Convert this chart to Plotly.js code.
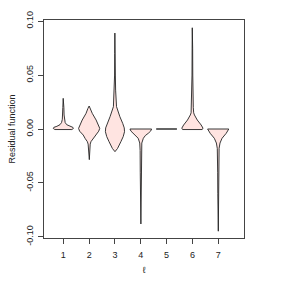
<!DOCTYPE html>
<html>
<head>
<meta charset="utf-8">
<script src="https://cdn.plot.ly/plotly-3.0.1.min.js"></script>
<style>html,body{margin:0;padding:0;background:#fff;}#chart{width:288px;height:288px;}</style>
</head>
<body>
<div id="chart"></div>
<script>
// Categories (ℓ)
const categories = [1, 2, 3, 4, 5, 6, 7];
const xTickLabels = ['1', '2', '3', '4', '5', '6', '7'];
const yTickVals = [-0.10, -0.05, 0.00, 0.05, 0.10];
const yTickLabels = ['-0.10', '-0.05', '0.00', '0.05', '0.10'];

// Violin profiles: residual levels (ascending) and half-widths (density, x units)
const v1Y = [-0.0005, 0.0005, 0.0015, 0.0025, 0.004, 0.006, 0.009, 0.013, 0.02, 0.0284];
const v1W = [0.33, 0.39, 0.37, 0.25, 0.13, 0.07, 0.04, 0.028, 0.02, 0.006];

const v2Y = [-0.0284, -0.024, -0.018, -0.014, -0.0117, -0.009, -0.0056, -0.002, 0.0006, 0.004, 0.0083, 0.0145, 0.019, 0.0213];
const v2W = [0.006, 0.015, 0.025, 0.04, 0.07, 0.15, 0.23, 0.37, 0.41, 0.36, 0.27, 0.12, 0.05, 0.0];

const v3Y = [-0.021, -0.018, -0.0117, -0.007, -0.0025, 0.001, 0.0052, 0.0114, 0.0207, 0.028, 0.036, 0.05, 0.07, 0.0889];
const v3W = [0.0, 0.1, 0.23, 0.32, 0.37, 0.36, 0.30, 0.19, 0.06, 0.035, 0.025, 0.015, 0.01, 0.004];

const v4Y = [-0.088, -0.08, -0.06, -0.04, -0.02, -0.013, -0.0086, -0.006, -0.004, -0.002, 0.0];
const v4W = [0.004, 0.01, 0.015, 0.02, 0.025, 0.04, 0.1, 0.18, 0.29, 0.38, 0.42];

const v5Y = [0.0, 0.0];
const v5W = [0.4, 0.4];

const v6Y = [-0.0005, 0.0008, 0.0037, 0.0083, 0.013, 0.015, 0.02, 0.03, 0.05, 0.075, 0.0938];
const v6W = [0.38, 0.41, 0.34, 0.19, 0.08, 0.05, 0.035, 0.025, 0.015, 0.01, 0.004];

const v7Y = [-0.0947, -0.08, -0.06, -0.04, -0.025, -0.018, -0.013, -0.0086, -0.004, -0.002, 0.0];
const v7W = [0.004, 0.01, 0.015, 0.02, 0.025, 0.035, 0.07, 0.15, 0.31, 0.37, 0.41];

const profilesY = [v1Y, v2Y, v3Y, v4Y, v5Y, v6Y, v7Y];
const profilesW = [v1W, v2W, v3W, v4W, v5W, v6W, v7W];

const traces = categories.map((c, i) => {
  const ys = profilesY[i], ws = profilesW[i];
  const x = [], y = [];
  for (let k = 0; k < ys.length; k++) { x.push(c + ws[k]); y.push(ys[k]); }
  for (let k = ys.length - 1; k >= 0; k--) { x.push(c - ws[k]); y.push(ys[k]); }
  x.push(x[0]); y.push(y[0]);
  return {
    type: 'scatter', mode: 'lines', x: x, y: y,
    fill: 'toself', fillcolor: '#ffe4e1',
    line: {color: '#222222', width: 0.9},
    hoverinfo: 'skip', showlegend: false
  };
});

const font = {family: 'Liberation Sans, Arial, Helvetica, sans-serif', size: 9, color: '#222'};

const layout = {
  width: 288, height: 288,
  margin: {l: 44, r: 44, t: 20, b: 50, pad: 0},
  paper_bgcolor: '#fff', plot_bgcolor: '#fff',
  font: font,
  showlegend: false,
  xaxis: {
    range: [0.25, 8.0], tickvals: categories, ticktext: xTickLabels,
    ticks: 'outside', ticklen: 5, tickcolor: '#444', tickwidth: 1,
    ticklabelstandoff: 3,
    showline: true, mirror: true, linecolor: '#444', linewidth: 1,
    showgrid: false, zeroline: false, tickfont: font,
    title: {text: 'ℓ', font: font, standoff: 7},
    automargin: false
  },
  yaxis: {
    range: [-0.101, 0.101], tickvals: yTickVals, ticktext: yTickLabels,
    tickangle: -90,
    ticks: 'outside', ticklen: 5, tickcolor: '#444', tickwidth: 1,
    ticklabelstandoff: 1,
    showline: true, mirror: true, linecolor: '#444', linewidth: 1,
    showgrid: false, zeroline: false, tickfont: font,
    title: {text: 'Residual function', font: font, standoff: 8},
    automargin: false
  }
};

Plotly.newPlot('chart', traces, layout, {staticPlot: true, displayModeBar: false});
</script>
</body>
</html>
